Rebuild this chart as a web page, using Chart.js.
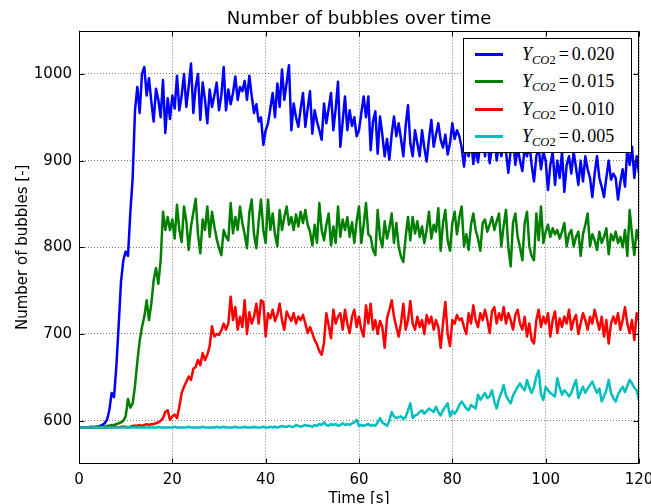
<!DOCTYPE html>
<html>
<head>
<meta charset="utf-8">
<title>Number of bubbles over time</title>
<script src="https://cdn.jsdelivr.net/npm/chart.js@4.4.1/dist/chart.umd.min.js"></script>
<style>
  html, body { margin: 0; padding: 0; background: #fff; }
  #wrap { position: relative; width: 651px; height: 504px; overflow: hidden; }
  #legend { position: absolute; box-sizing: border-box; width: 169px; height: 115px; border: 1px solid #000;
            background: #fff; padding-top: 2px; font-family: "Liberation Serif", serif; font-size: 18px; color: #000; }
  #legend .row { display: flex; align-items: center; height: 27.5px; white-space: nowrap; }
  #legend .swatch { display: inline-block; width: 28px; height: 3px; margin-left: 11px; margin-right: 19px; }
  #legend sub { font-size: 12.5px; vertical-align: -4px; line-height: 0; }
  #legend .eq { margin: 0 3px 0 3px; }
  #legend .dot { margin-right: 2px; }
</style>
</head>
<body>
<div id="wrap">
  <canvas id="c" width="651" height="504"></canvas>
  <div id="legend"></div>
</div>
<script>
// time axis: one sample every half second, 0 .. 120 s
const timeStart = 0;
const timeStep = 0.5;
const xTicks = [0, 20, 40, 60, 80, 100, 120];
const yTicks = [600, 700, 800, 900, 1000];
const co2Values = ['0.020', '0.015', '0.010', '0.005'];
const lineColors = ['#0000ff', '#008000', '#ff0000', '#00bfbf'];

// Y_CO2 = 0.020
const blue = [
  592,592,592,592,592,593,592,593,593,594,
  595,597,601,612,632,627,662,710,760,785,
  795,790,840,880,958,985,955,1000,1008,975,
  995,968,945,983,970,950,993,932,972,948,
  975,960,998,958,975,1000,962,985,1012,955,
  985,1000,947,990,970,943,982,962,975,990,
  958,975,1008,958,982,965,978,997,970,985,
  980,992,970,998,975,955,965,945,950,918,
  935,943,960,978,950,989,962,1005,970,990,
  1010,935,966,950,939,960,978,939,960,980,
  931,958,945,935,924,966,943,960,978,935,
  960,991,916,945,974,935,958,940,950,928,
  935,955,974,950,974,912,945,957,908,951,
  930,905,925,901,930,951,928,943,925,905,
  940,964,920,905,935,920,905,935,915,899,
  925,947,916,930,943,924,915,930,907,920,
  943,925,935,928,915,893,920,905,925,896,
  915,898,920,930,905,925,897,915,930,900,
  920,905,925,910,886,912,925,895,915,900,
  888,915,905,920,895,876,905,915,890,910,
  900,866,895,910,872,900,880,910,864,895,
  905,885,910,892,872,900,876,905,890,880,
  858,885,905,880,870,858,880,900,878,885,
  880,855,875,890,870,914,895,916,880,905,
  885
];

// Y_CO2 = 0.015
const green = [
  592,592,592,592,592,592,593,592,593,593,
  593,593,594,594,595,595,596,597,598,600,
  605,625,615,620,640,668,692,708,720,739,
  716,735,762,776,758,785,841,820,835,820,
  832,810,849,820,806,847,830,797,824,840,
  856,815,793,832,820,847,812,841,824,810,
  799,791,820,812,808,851,816,835,820,847,
  828,815,799,840,855,815,799,830,855,820,
  805,855,820,839,815,801,843,820,835,847,
  826,835,820,838,824,841,828,843,826,818,
  802,826,805,851,820,808,826,839,802,824,
  805,847,812,832,820,835,812,829,805,830,
  847,805,826,851,815,812,797,791,843,812,
  800,830,810,822,839,805,828,801,789,783,
  812,835,808,835,816,830,812,824,805,820,
  841,810,826,818,845,796,828,843,808,796,
  828,841,815,835,847,801,815,797,826,839,
  820,810,796,828,832,818,826,835,820,830,
  839,801,825,843,800,778,828,839,812,800,
  785,828,841,801,790,785,839,808,847,805,
  818,826,812,822,815,820,810,818,828,801,
  815,820,801,812,818,790,815,826,839,801,
  815,808,797,818,805,812,822,792,815,808,
  818,805,812,800,820,790,843,815,791,820,
  808
];

// Y_CO2 = 0.010
const red = [
  592,592,592,592,592,592,592,592,592,592,
  592,592,592,593,592,593,593,592,593,593,
  593,592,593,594,594,594,595,594,595,596,
  595,596,596,597,598,600,603,610,612,601,
  605,607,603,616,632,639,645,651,647,660,
  662,670,664,678,670,676,686,709,697,700,
  699,704,712,705,712,743,716,731,705,720,
  708,739,700,725,712,720,735,712,739,737,
  697,724,718,728,715,722,735,716,705,726,
  720,715,724,712,720,716,722,712,701,708,
  701,693,688,680,676,690,724,710,695,728,
  712,720,724,705,728,712,701,720,728,708,
  720,705,697,733,712,735,705,716,700,715,
  708,684,718,728,739,720,708,697,712,735,
  705,716,738,712,705,720,708,716,700,722,
  712,720,705,716,708,684,712,737,700,686,
  716,712,722,716,718,708,700,724,712,733,
  716,708,724,716,728,716,701,726,731,712,
  724,716,731,712,724,716,705,722,728,712,
  705,720,697,712,693,689,716,728,708,720,
  712,724,697,716,726,701,718,708,720,712,
  728,705,716,722,700,712,724,716,705,720,
  712,728,716,705,720,697,716,689,712,720,
  712,724,705,716,731,712,701,716,693,724,
  715
];

// Y_CO2 = 0.005
const cyan = [
  592,592,592,592,592,592,592,592,592,592,
  592,592,592,592,592,592,592,592,592,592,
  592,592,592,592,592,592,592,592,592,592,
  592,592,592,592,593,592,592,592,592,592,
  592,593,592,592,592,592,592,593,592,592,
  592,592,592,593,592,592,592,592,592,593,
  592,592,593,592,592,592,592,593,592,592,
  592,593,592,592,592,593,592,592,592,593,
  592,592,593,592,593,592,593,594,593,593,
  594,593,593,595,594,593,594,595,594,594,
  593,595,594,596,595,598,595,594,596,595,
  596,594,595,597,595,596,595,597,598,601,
  594,595,594,595,596,594,595,594,598,603,
  598,596,594,600,610,605,603,604,605,602,
  604,612,620,603,606,607,610,612,608,611,
  614,612,610,616,610,606,612,616,620,605,
  611,608,612,618,622,618,614,612,618,616,
  614,630,624,628,632,626,628,635,622,614,
  625,632,641,629,624,620,629,634,639,643,
  638,635,647,638,632,639,651,658,630,624,
  639,635,632,630,628,649,638,630,635,632,
  628,632,640,647,626,633,639,632,637,641,
  645,638,632,637,622,628,635,647,632,626,
  622,630,635,639,633,640,647,643,638,635,
  624
];

const series = [blue, green, red, cyan];
const times = blue.map((v, i) => timeStart + i * timeStep);

Chart.defaults.font.family = '"DejaVu Sans", sans-serif';
Chart.defaults.color = '#000';

// black box round the plot with short inward ticks, like the matplotlib frame
const frame = {
  id: 'frame',
  afterDatasetsDraw(chart) {
    const { ctx, chartArea: a, scales } = chart;
    const l = Math.round(a.left) + 0.5, r = Math.round(a.right) - 0.5;
    const t = Math.round(a.top) + 0.5, b = Math.round(a.bottom) - 0.5;
    ctx.save();
    ctx.strokeStyle = '#000';
    ctx.lineWidth = 1;
    ctx.beginPath();
    scales.x.ticks.forEach(tk => {
      const px = Math.round(scales.x.getPixelForValue(tk.value)) + 0.5;
      ctx.moveTo(px, b); ctx.lineTo(px, b - 5);
      ctx.moveTo(px, t); ctx.lineTo(px, t + 5);
    });
    scales.y.ticks.forEach(tk => {
      const py = Math.round(scales.y.getPixelForValue(tk.value)) + 0.5;
      ctx.moveTo(l, py); ctx.lineTo(l + 5, py);
      ctx.moveTo(r, py); ctx.lineTo(r - 5, py);
    });
    ctx.stroke();
    ctx.strokeRect(l, t, r - l, b - t);
    ctx.restore();
  }
};

const gridStyle = { color: 'rgba(0,0,0,0.5)', lineWidth: 1, drawTicks: false };
const borderStyle = { display: false, dash: [1, 2] };

const chart = new Chart(document.getElementById('c'), {
  type: 'line',
  data: {
    datasets: series.map((vals, i) => ({
      label: 'Y_CO2 = ' + co2Values[i],
      data: vals.map((v, j) => ({ x: times[j], y: v })),
      borderColor: lineColors[i],
      backgroundColor: lineColors[i],
      borderWidth: 2.5,
      borderJoinStyle: 'round',
      pointRadius: 0,
      fill: false,
      tension: 0,
      order: series.length - 1 - i
    }))
  },
  options: {
    responsive: false,
    animation: false,
    devicePixelRatio: 1,
    layout: { padding: { left: 0, right: 12, top: 0, bottom: 0 } },
    plugins: {
      legend: { display: false },
      tooltip: { enabled: false },
      title: {
        display: true,
        text: 'Number of bubbles over time',
        fullSize: false,
        color: '#000',
        font: { size: 18, weight: 'normal' },
        padding: { top: 9, bottom: 0 }
      }
    },
    scales: {
      x: {
        type: 'linear',
        min: 0,
        max: 120,
        afterBuildTicks: s => { s.ticks = xTicks.map(v => ({ value: v })); },
        afterFit: s => { s.height = 40; s.paddingLeft = 0; s.paddingRight = 0; },
        grid: gridStyle,
        border: borderStyle,
        ticks: { font: { size: 15 }, padding: 7, maxRotation: 0, autoSkip: false, callback: v => String(v) },
        title: { display: true, text: 'Time [s]', font: { size: 15 }, padding: { top: 0, bottom: -4 } }
      },
      y: {
        min: 550,
        max: 1050,
        afterBuildTicks: s => { s.ticks = yTicks.map(v => ({ value: v })); },
        afterFit: s => { s.width = 79; s.paddingTop = 0; s.paddingBottom = 0; },
        grid: gridStyle,
        border: borderStyle,
        ticks: { font: { size: 15 }, padding: 7, callback: v => String(v) },
        title: { display: true, text: 'Number of bubbles [-]', font: { size: 15 }, padding: { top: 14, bottom: 0 } }
      }
    }
  },
  plugins: [frame]
});

// legend box inside the upper right corner of the plot
const legend = document.getElementById('legend');
const area = chart.chartArea;
legend.style.left = (area.right - 7 - 169) + 'px';
legend.style.top = (area.top + 7) + 'px';
chart.data.datasets.forEach((ds, i) => {
  const parts = co2Values[i].split('.');
  const row = document.createElement('div');
  row.className = 'row';
  row.innerHTML = '<span class="swatch" style="background:' + ds.borderColor + '"></span>' +
    '<span><i>Y</i><sub><i>CO</i>2</sub><span class="eq">=</span>' +
    '<span class="dot">' + parts[0] + '.</span>' + parts[1] + '</span>';
  legend.appendChild(row);
});
</script>
</body>
</html>
